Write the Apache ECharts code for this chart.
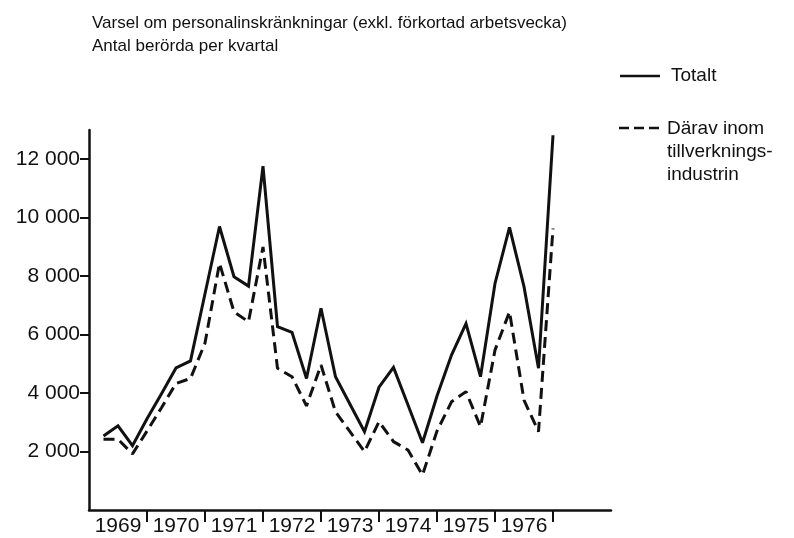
<!DOCTYPE html>
<html>
<head>
<meta charset="utf-8">
<script src="https://cdn.jsdelivr.net/npm/echarts@6/dist/echarts.min.js"></script>
<style>
  html, body { margin: 0; padding: 0; background: #fff; }
  #chart { width: 794px; height: 538px; }
</style>
</head>
<body>
<div id="chart"></div>
<script>
// kvartal 1969:1 - 1976:4
var years = ['1969', '1970', '1971', '1972', '1973', '1974', '1975', '1976'];
var totalt = [
  2530, 2880, 2200, 3120,
  3980, 4860, 5100, 7400,
  9700, 7980, 7660, 11760,
  6270, 6080, 4500, 6900,
  4560, 3620, 2680, 4200,
  4880, 3590, 2300, 3900,
  5300, 6380, 4560, 7750,
  9670, 7640, 4850, 12820
];
var tillverkning = [
  2420, 2420, 1920, 2700,
  3500, 4330, 4500, 5710,
  8440, 6780, 6440, 9000,
  4850, 4560, 3560, 4960,
  3360, 2680, 2000, 3020,
  2340, 2050, 1200, 2700,
  3700, 4050, 2850, 5470,
  6780, 3760, 2680, 9630
];
var yTicks = [2000, 4000, 6000, 8000, 10000, 12000];

var font = "'Liberation Sans', Arial, sans-serif";

function toPoints(arr) {
  return arr.map(function (v, i) { return [i + 1, v]; });
}

var chart = echarts.init(document.getElementById('chart'));
var option = {
  animation: false,
  backgroundColor: '#fff',
  title: {
    text: 'Varsel om personalinskränkningar (exkl. förkortad arbetsvecka)\nAntal berörda per kvartal',
    left: 87,
    top: 7,
    textStyle: {
      fontFamily: font,
      fontSize: 17,
      fontWeight: 'normal',
      color: '#111',
      lineHeight: 23
    }
  },
  grid: {
    left: 89,
    right: 183,
    top: 130,
    bottom: 28
  },
  xAxis: {
    type: 'value',
    min: 0,
    max: 36,
    splitLine: { show: false },
    axisLine: { show: true, lineStyle: { color: '#111', width: 2.5 } },
    axisTick: {
      show: true,
      inside: false,
      length: 12,
      customValues: [4, 8, 12, 16, 20, 24, 28, 32],
      lineStyle: { color: '#111', width: 2 }
    },
    axisLabel: {
      customValues: [2, 6, 10, 14, 18, 22, 26, 30],
      formatter: function (v) { return years[(v - 2) / 4]; },
      margin: 6,
      fontFamily: font,
      fontSize: 21,
      color: '#111'
    }
  },
  yAxis: {
    type: 'value',
    min: 0,
    max: 13000,
    splitLine: { show: false },
    axisLine: { show: true, lineStyle: { color: '#111', width: 2.5 } },
    axisTick: {
      show: true,
      inside: false,
      length: 9,
      customValues: yTicks,
      lineStyle: { color: '#111', width: 2 }
    },
    axisLabel: {
      customValues: yTicks,
      formatter: function (v) {
        return String(v).replace(/\B(?=(\d{3})+(?!\d))/g, ' ');
      },
      margin: 9,
      fontFamily: font,
      fontSize: 21,
      color: '#111'
    }
  },
  graphic: [
    { type: 'line', shape: { x1: 620, y1: 76, x2: 660, y2: 76 }, style: { stroke: '#111', lineWidth: 2.5 } },
    { type: 'text', left: 671, top: 66, style: { text: 'Totalt', font: '19px ' + font, fill: '#111' } },
    { type: 'line', shape: { x1: 619, y1: 128, x2: 662, y2: 128 }, style: { stroke: '#111', lineWidth: 2.5, lineDash: [10, 5] } },
    {
      type: 'text', left: 667, top: 117,
      style: { text: 'Därav inom\ntillverknings-\nindustrin', font: '19px ' + font, fill: '#111', lineHeight: 23 }
    }
  ],
  series: [
    {
      name: 'Totalt',
      type: 'line',
      data: toPoints(totalt),
      symbol: 'none',
      lineStyle: { color: '#111', width: 3, join: 'miter', miterLimit: 3 }
    },
    {
      name: 'Därav inom tillverkningsindustrin',
      type: 'line',
      data: toPoints(tillverkning),
      symbol: 'none',
      lineStyle: { color: '#111', width: 3, type: [11, 6], miterLimit: 3 }
    }
  ]
};
chart.setOption(option);
window.addEventListener('resize', function () {
  chart.resize();
});
</script>
</body>
</html>
